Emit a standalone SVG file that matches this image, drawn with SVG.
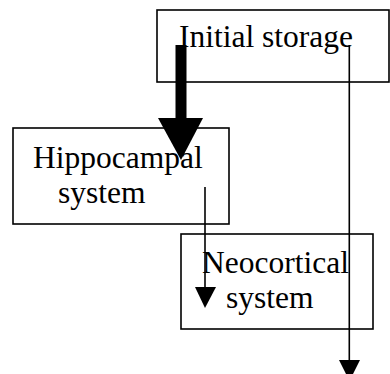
<svg xmlns="http://www.w3.org/2000/svg" width="390" height="374" viewBox="0 0 390 374">
  <style>
    .box { fill: #fff; stroke: #000; stroke-width: 1.6; }
    .lbl { font-family: "Liberation Serif", "Times New Roman", serif; font-size: 31.5px; fill: #000; }
    .thin { stroke: #000; stroke-width: 1.6; fill: none; }
    .head { fill: #000; }
  </style>
  <rect width="390" height="374" fill="#fff"/>

  <g id="initial-storage">
    <rect class="box" x="157" y="10" width="232" height="72"/>
    <text class="lbl" x="179" y="47">Initial storage</text>
  </g>

  <g id="hippocampal-system">
    <rect class="box" x="13" y="128" width="216" height="96"/>
    <text class="lbl" x="33" y="168">Hippocampal</text>
    <text class="lbl" x="58" y="203">system</text>
  </g>

  <g id="neocortical-system">
    <rect class="box" x="181" y="234" width="192" height="95"/>
    <text class="lbl" x="202" y="273">Neocortical</text>
    <text class="lbl" x="226" y="308">system</text>
  </g>

  <g id="connectors">
    <!-- strong transfer: initial storage to hippocampus -->
    <rect class="head" x="175.5" y="45" width="11" height="76"/>
    <polygon class="head" points="158,118 203,118 181,160"/>
    <!-- hippocampus to neocortex -->
    <line class="thin" x1="205" y1="187" x2="205" y2="290"/>
    <polygon class="head" points="195,287 216,287 205,308"/>
    <!-- direct slow path -->
    <line class="thin" x1="349.3" y1="45" x2="349.3" y2="362"/>
    <polygon class="head" points="339,360 360,360 349.5,381"/>
  </g>
</svg>
